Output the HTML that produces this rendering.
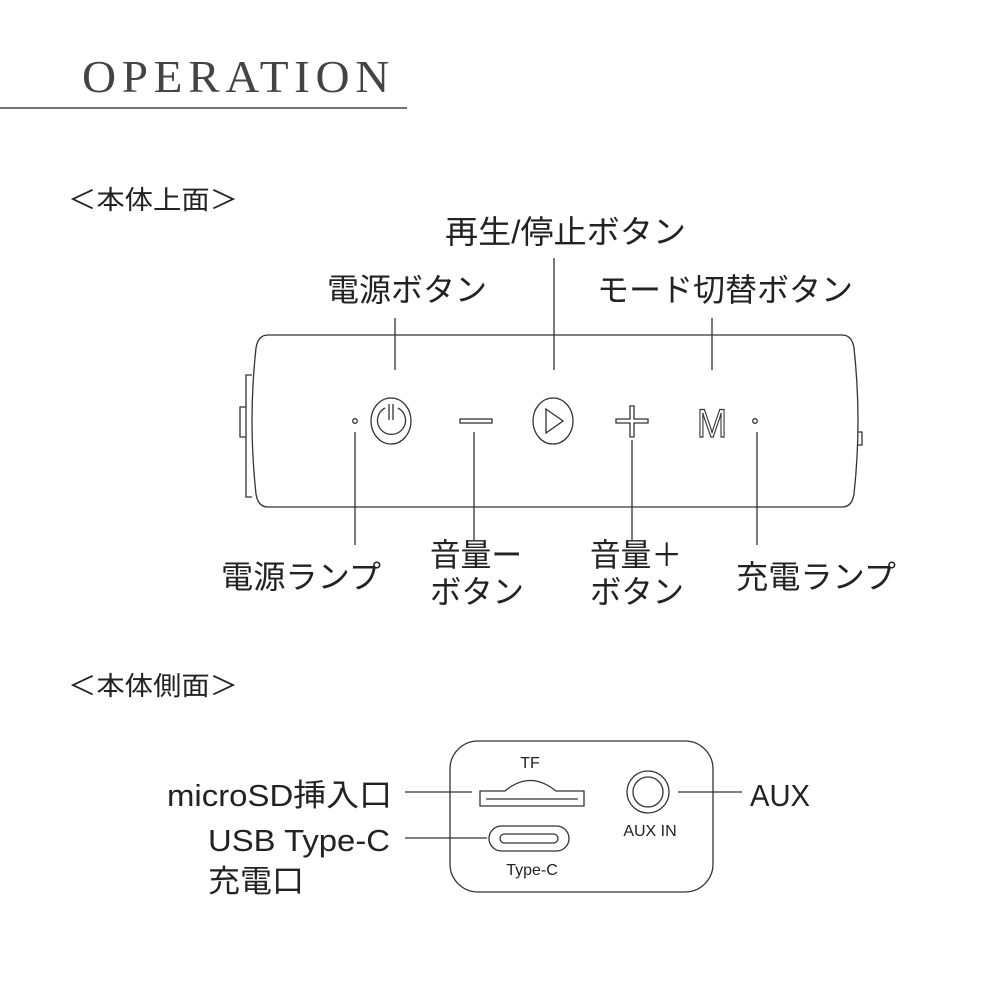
<!DOCTYPE html>
<html><head><meta charset="utf-8"><style>
html,body{margin:0;padding:0;background:#fff;}
svg{display:block;}
.j{font-family:"Liberation Sans","Noto Sans CJK JP",sans-serif;fill:#222;}
</style></head><body>
<svg width="1000" height="1000" viewBox="0 0 1000 1000" xmlns="http://www.w3.org/2000/svg">
<text x="82" y="92" font-family="Liberation Serif,serif" font-size="46" letter-spacing="5.5" fill="#444" textLength="313" lengthAdjust="spacingAndGlyphs">OPERATION</text>
<line x1="0" y1="108" x2="407" y2="108" stroke="#444" stroke-width="1.5"/>
<text class="j" x="68" y="209" font-size="26" textLength="170" lengthAdjust="spacingAndGlyphs">＜本体上面＞</text>

<text class="j" x="445" y="243" font-size="32" textLength="241" lengthAdjust="spacingAndGlyphs">再生/停止ボタン</text>
<text class="j" x="327" y="301" font-size="32" textLength="160" lengthAdjust="spacingAndGlyphs">電源ボタン</text>
<text class="j" x="597" y="301" font-size="32" textLength="256" lengthAdjust="spacingAndGlyphs">モード切替ボタン</text>

<g stroke="#333" stroke-width="1.3" fill="none">
<line x1="395" y1="318" x2="395" y2="370"/>
<line x1="554" y1="258" x2="554" y2="370"/>
<line x1="712" y1="318" x2="712" y2="370"/>
<line x1="355" y1="432" x2="355" y2="545"/>
<line x1="474" y1="432" x2="474" y2="540"/>
<line x1="632" y1="440" x2="632" y2="540"/>
<line x1="757" y1="432" x2="757" y2="545"/>
<path d="M268 335 L842 335 Q852 335 854 348 Q858 385 858 421 Q858 457 854 494 Q852 507 842 507 L268 507 Q258 507 256 494 Q252 457 252 421 Q252 385 256 348 Q258 335 268 335 Z"/>
<path d="M252 375 L246 375 L246 497 L252 497"/>
<path d="M246 407 L240 407 L240 437 L246 437"/>
<path d="M858 432 L862 432 L862 445 L858 445"/>
<ellipse cx="391" cy="421" rx="20" ry="23"/>
<path d="M385 408 A14 14 0 1 0 398 408"/>
<path d="M389 404 L389 420 M393 404 L393 420"/>
<rect x="460" y="419" width="32" height="4"/>
<ellipse cx="553" cy="421" rx="20" ry="23"/>
<path d="M546 409 L563 421 L546 433 Z"/>
<path d="M616 419 L630 419 L630 406 L634 406 L634 419 L648 419 L648 423 L634 423 L634 437 L630 437 L630 423 L616 423 Z"/>
<text x="712" y="437" font-family="Liberation Sans,sans-serif" font-size="40" text-anchor="middle" fill="#fff" stroke="#333" stroke-width="1.2" textLength="30" lengthAdjust="spacingAndGlyphs">M</text>
<circle cx="355" cy="421" r="2.3"/>
<circle cx="755" cy="421" r="2.3"/>
</g>

<text class="j" x="221" y="588" font-size="32" textLength="160" lengthAdjust="spacingAndGlyphs">電源ランプ</text>
<text class="j" x="430" y="566" font-size="32" textLength="92" lengthAdjust="spacingAndGlyphs">音量ー</text>
<text class="j" x="430" y="603" font-size="32" textLength="94" lengthAdjust="spacingAndGlyphs">ボタン</text>
<text class="j" x="590" y="566" font-size="32" textLength="92" lengthAdjust="spacingAndGlyphs">音量＋</text>
<text class="j" x="590" y="603" font-size="32" textLength="94" lengthAdjust="spacingAndGlyphs">ボタン</text>
<text class="j" x="736" y="588" font-size="32" textLength="160" lengthAdjust="spacingAndGlyphs">充電ランプ</text>

<text class="j" x="68" y="695" font-size="26" textLength="170" lengthAdjust="spacingAndGlyphs">＜本体側面＞</text>

<g stroke="#333" stroke-width="1.3" fill="none">
<rect x="450" y="741" width="263" height="151" rx="28"/>
<path d="M480 791 L505 791 Q530 770 556 791 L584 791 L584 806 L480 806 Z"/>
<line x1="486" y1="799" x2="578" y2="799"/>
<rect x="489" y="826" width="80" height="25" rx="12.5"/>
<rect x="500" y="834" width="58" height="9" rx="4.5"/>
<circle cx="648" cy="792" r="21"/>
<circle cx="648" cy="792" r="15"/>
<line x1="405" y1="792" x2="472" y2="792"/>
<line x1="405" y1="838" x2="487" y2="838"/>
<line x1="678" y1="792" x2="742" y2="792"/>
</g>
<text x="530" y="768" font-family="Liberation Sans,sans-serif" font-size="16" fill="#222" text-anchor="middle">TF</text>
<text x="532" y="875" font-family="Liberation Sans,sans-serif" font-size="16" fill="#222" text-anchor="middle">Type-C</text>
<text x="650" y="836" font-family="Liberation Sans,sans-serif" font-size="16" fill="#222" text-anchor="middle">AUX IN</text>

<text class="j" x="167" y="806" font-size="31" textLength="225" lengthAdjust="spacingAndGlyphs">microSD挿入口</text>
<text class="j" x="208" y="851" font-size="31" textLength="182" lengthAdjust="spacingAndGlyphs">USB Type-C</text>
<text class="j" x="208" y="892" font-size="31" textLength="96" lengthAdjust="spacingAndGlyphs">充電口</text>
<text class="j" x="750" y="806" font-size="31" textLength="60" lengthAdjust="spacingAndGlyphs">AUX</text>
</svg>
</body></html>
